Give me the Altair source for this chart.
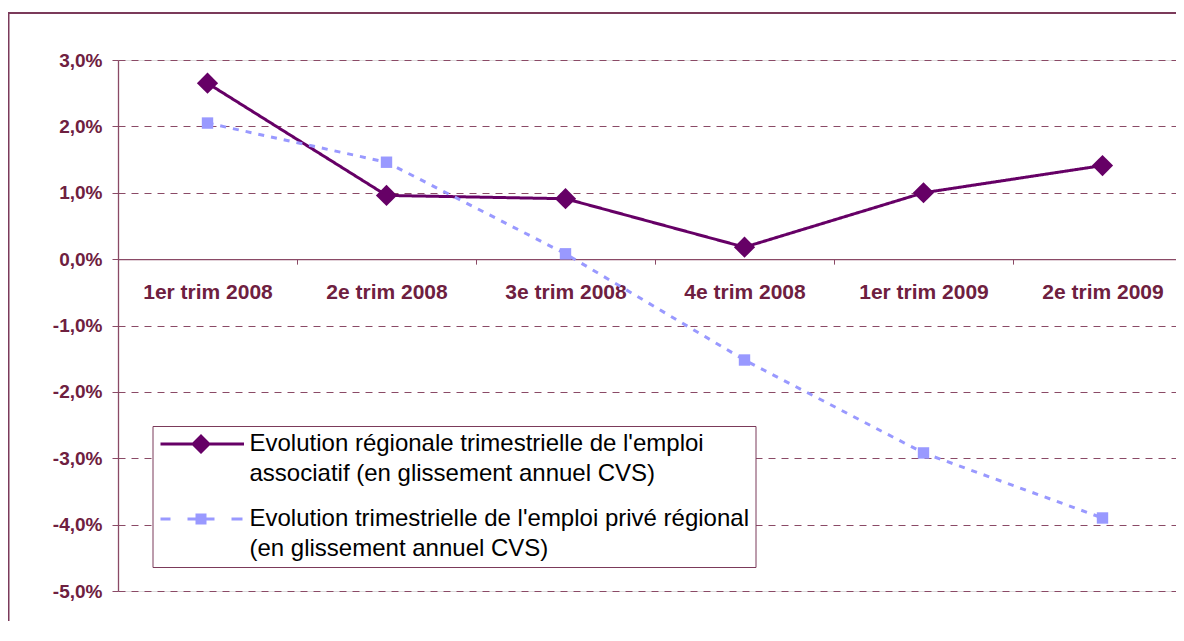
import json
import altair as alt
import pandas as pd

# ---------------- data ----------------
quarters = ["1er trim 2008", "2e trim 2008", "3e trim 2008",
            "4e trim 2008", "1er trim 2009", "2e trim 2009"]
associatif = [2.65, 0.96, 0.91, 0.18, 1.00, 1.41]
prive = [2.05, 1.46, 0.08, -1.52, -2.92, -3.90]
series_keys = ["A", "B"]
legend_a = ["Evolution régionale trimestrielle de l'emploi",
            "associatif (en glissement annuel CVS)"]
legend_b = ["Evolution trimestrielle de l'emploi privé régional",
            "(en glissement annuel CVS)"]
colors = ["#660066", "#9999ff"]
y_ticks = [-5, -4, -3, -2, -1, 0, 1, 2, 3]

rows = []
for q, v in zip(quarters, associatif):
    rows.append({"trimestre": q, "serie": "A", "valeur": v})
for q, v in zip(quarters, prive):
    rows.append({"trimestre": q, "serie": "B", "valeur": v})
df = pd.DataFrame(rows)
df["serie_l"] = df["serie"]   # copies so that the hidden-legend channels
df["serie_p"] = df["serie"]   # are not merged with the visible legend

# ---------------- style ----------------
W, H = 1058, 531
STEP = 179
TEXT = "#6e2040"
AXIS = "#8a4a66"
FONT = "Liberation Sans"
zero_y = H * 3 / 8

x_enc = alt.X(
    "trimestre:N", sort=quarters,
    scale=alt.Scale(type="point", domain=quarters, range=[0, STEP * 6], padding=0.5),
    axis=alt.Axis(title=None, orient="bottom", offset=-(H - zero_y), grid=False,
                  domainColor=AXIS, domainWidth=1.3, tickColor=AXIS, tickSize=5,
                  tickOffset=-STEP / 2, labelOffset=STEP / 2, labelAngle=0,
                  labelFont=FONT, labelFontSize=21, labelFontWeight="bold",
                  labelColor=TEXT, labelPadding=17),
)
y_enc = alt.Y(
    "valeur:Q",
    scale=alt.Scale(domain=[-5, 3], nice=False, zero=False),
    axis=alt.Axis(title=None, values=y_ticks, grid=True, gridColor=AXIS,
                  gridDash=[7, 6], gridWidth=1, domainColor=AXIS, domainWidth=1.3,
                  tickColor=AXIS, tickSize=6,
                  labelExpr="(datum.value < 0 ? '-' : '') + replace(format(abs(datum.value), '.1f'), '.', ',') + '%'",
                  labelFont=FONT, labelFontSize=19, labelFontWeight="bold",
                  labelColor=TEXT, labelPadding=10),
)

label_expr = ("datum.value == 'A' ? " + json.dumps(legend_a, ensure_ascii=False)
              + " : " + json.dumps(legend_b, ensure_ascii=False))
# legend glyphs (unit = 10 px): line or dashes with the marker, all filled shapes
path_a = "M-1,-0.15H7.35V0.15H-1Z M3.05,-1L4.05,0L3.05,1L2.05,0Z"
path_b = ("M-1,-0.15H0V0.15H-1Z M1.7,-0.15H4.4V0.15H1.7Z "
          "M6.1,-0.15H7.2V0.15H6.1Z M2.5,-0.55H3.6V0.55H2.5Z")

legend = alt.Legend(
    title=None, orient="none", legendX=34.5, legendY=366, direction="vertical",
    strokeColor="#7b3a5a", fillColor="white", padding=6, rowPadding=21,
    labelFont=FONT, labelFontSize=24, labelColor="black", labelLimit=800,
    labelOffset=67, labelExpr=label_expr,
    symbolType=alt.ExprRef(expr=f"datum.value == 'A' ? '{path_a}' : '{path_b}'"),
    symbolSize=400, symbolStrokeWidth=0, symbolOpacity=1,
)

frame = alt.Chart(pd.DataFrame({"k": [0]})).mark_rect(
    fill=None, stroke="#7b3a5a", strokeWidth=2
).encode(
    x=alt.value(-109.5), x2=alt.value(1300), y=alt.value(-47), y2=alt.value(900)
)

base = alt.Chart(df)
lines = base.mark_line(strokeWidth=3).encode(
    x=x_enc, y=y_enc,
    stroke=alt.Stroke("serie_l:N", scale=alt.Scale(range=colors), legend=None),
    strokeDash=alt.StrokeDash("serie_l:N", scale=alt.Scale(range=[[1, 0], [6, 7]]), legend=None),
)
points = base.mark_point(filled=True, opacity=1, strokeWidth=0).encode(
    x=x_enc, y=y_enc,
    color=alt.Color("serie:N", scale=alt.Scale(domain=series_keys, range=colors), legend=legend),
    shape=alt.Shape("serie_p:N", scale=alt.Scale(range=["diamond", "square"]), legend=None),
    size=alt.Size("serie_p:N", scale=alt.Scale(range=[450, 130]), legend=None),
)

chart = alt.layer(frame, lines, points).properties(
    width=W, height=H,
    autosize=alt.AutoSizeParams(type="none"),
    padding={"left": 110, "top": 52, "right": 0, "bottom": 30},
).configure_view(stroke=None).configure(
    background="white", style={"guide-label": {"lineHeight": 30}}
)

chart.save("out.html", embed_options={"renderer": "svg", "actions": False})
